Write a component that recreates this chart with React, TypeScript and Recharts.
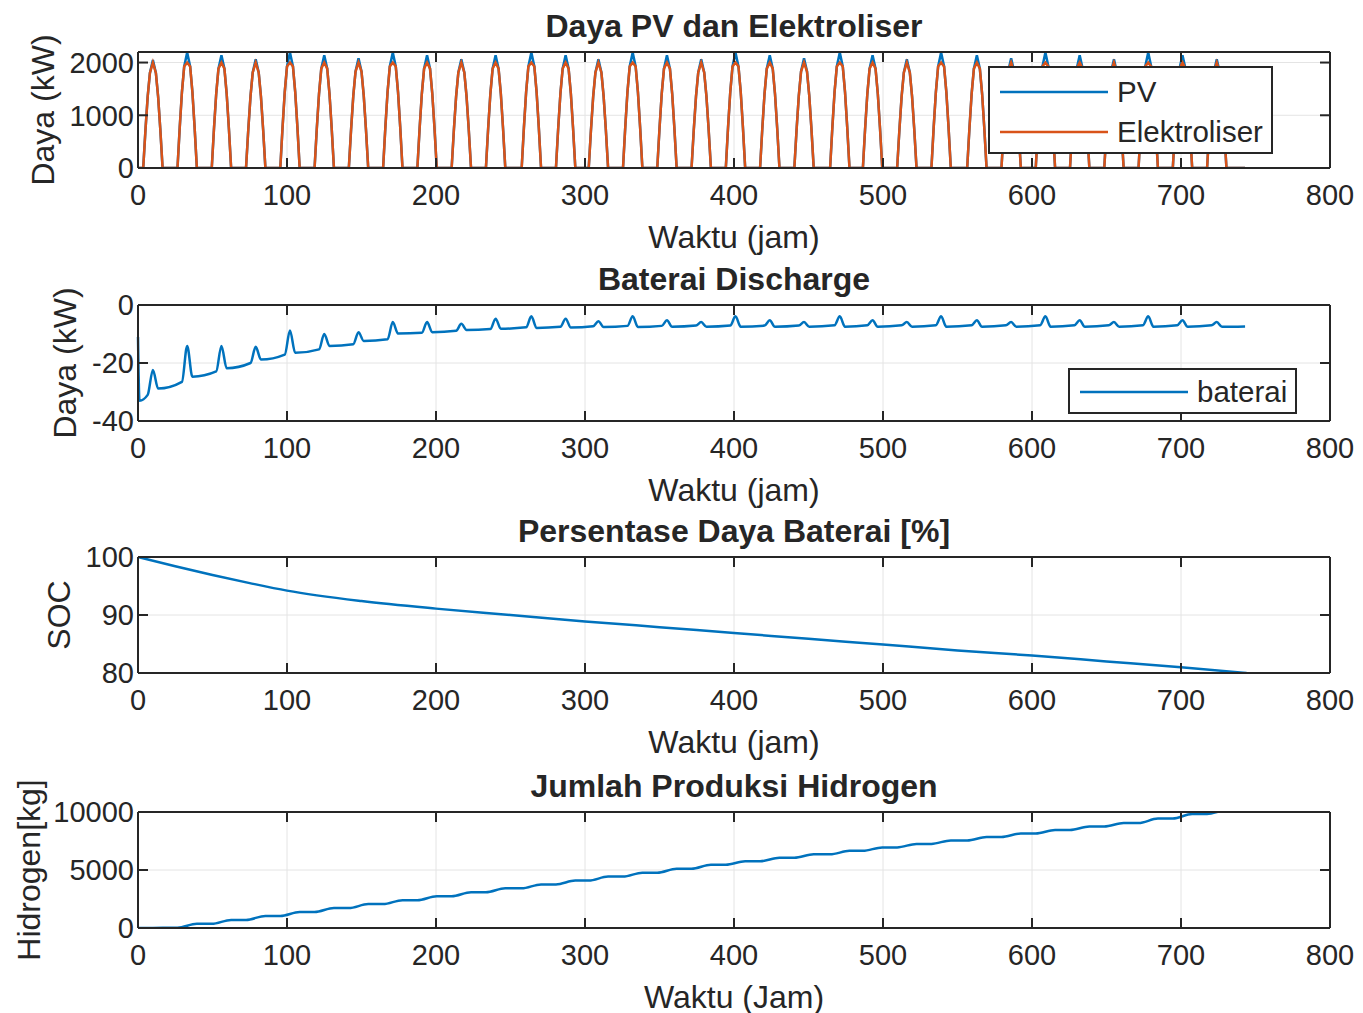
import React from 'react';
import { LineChart, Line, XAxis, YAxis, CartesianGrid, ReferenceLine } from 'recharts';

// sumbu waktu (jam)
const xTicks = [0, 100, 200, 300, 400, 500, 600, 700, 800];
const endHour = 743;

// jam puncak harian
const peakHours = [10, 33, 56, 79, 102, 125, 148, 171, 194, 217, 240, 264, 287, 309, 332, 355, 378, 401, 424, 447, 471, 493, 516, 539, 563, 586, 609, 632, 655, 678, 701, 724];

// puncak daya PV per hari (kW)
const pvPeak = [2050, 2190, 2140, 2060, 2190, 2140, 2080, 2190, 2140, 2060, 2140, 2190, 2140, 2060, 2190, 2140, 2060, 2190, 2140, 2080, 2190, 2140, 2060, 2190, 2140, 2080, 2190, 2140, 2060, 2190, 2140, 2060];
const elektroliserMax = 2000;

// bentuk kurva harian: jarak dari puncak (jam) dan fraksi puncak
const dayOffsets = [-6.5, -5, -3.5, -2, 0, 2, 3.5, 5, 6.5];
const dayFractions = [0, 0.35, 0.66, 0.88, 1, 0.88, 0.66, 0.35, 0];

// baterai discharge (kW): sebelum lonjakan, lonjakan, lembah sesudahnya
const batStart = [-11, -33];
const batPre = [-31, -26.5, -22.9, -20, -17.1, -15.3, -13.5, -11.8, -9.6, -8.9, -8.3, -7.7, -7.5, -7.3, -7.2, -7.2, -7.1, -7.1, -7.1, -7.1, -7.0, -7.0, -7.0, -7.0, -7.0, -7.0, -7.0, -7.0, -7.0, -7.0, -7.0, -7.0];
const batSpike = [-22.4, -14.1, -14.1, -14.4, -8.8, -10, -9.4, -5.9, -5.9, -6.5, -4.7, -3.9, -4.7, -5.6, -3.9, -5.3, -5.9, -3.9, -5.3, -5.9, -3.9, -5.3, -5.9, -3.9, -5.3, -5.9, -3.9, -5.3, -5.9, -3.9, -5.3, -5.9];
const batTrough = [-28.8, -24.7, -21.8, -18.8, -16.5, -14.1, -12.4, -9.8, -9.4, -8.6, -8.2, -7.9, -7.8, -7.6, -7.6, -7.5, -7.5, -7.5, -7.5, -7.5, -7.5, -7.5, -7.5, -7.5, -7.5, -7.5, -7.5, -7.5, -7.5, -7.5, -7.5, -7.5];
const batEnd = -7.4;

// SOC baterai (%)
const socHours = [0, 25, 50, 75, 100, 150, 200, 250, 300, 350, 400, 450, 500, 550, 600, 650, 700, 744];
const socValues = [100, 98.4, 96.9, 95.5, 94.2, 92.4, 91.1, 90, 88.9, 87.9, 86.9, 85.9, 84.9, 83.9, 83, 82, 81, 80];

// produksi hidrogen kumulatif di akhir tiap hari (kg)
const h2DayEnd = [20, 360, 700, 1040, 1380, 1720, 2060, 2400, 2740, 3080, 3420, 3760, 4090, 4430, 4770, 5110, 5450, 5750, 6050, 6350, 6650, 6950, 7250, 7550, 7850, 8150, 8450, 8750, 9050, 9430, 9830, 10150];

const powerData: { t: number; pv: number; elek: number }[] = [{ t: 0, pv: 0, elek: 0 }];
peakHours.forEach((p, k) => {
  dayOffsets.forEach((off, j) => {
    const v = pvPeak[k] * dayFractions[j];
    powerData.push({ t: p + off, pv: v, elek: Math.min(v, elektroliserMax) });
  });
});
powerData.push({ t: endHour, pv: 0, elek: 0 });

const batData: { t: number; bat: number }[] = [
  { t: 0, bat: batStart[0] },
  { t: 1, bat: batStart[1] },
];
peakHours.forEach((p, k) => {
  batData.push({ t: p - 3.5, bat: batPre[k] });
  batData.push({ t: p, bat: batSpike[k] });
  batData.push({ t: p + 3.5, bat: batTrough[k] });
});
batData.push({ t: endHour, bat: batEnd });

const socData = socHours.map((t, i) => ({ t, soc: socValues[i] }));

const h2Data: { t: number; h2: number }[] = [{ t: 0, h2: 0 }];
let prevH2 = 0;
peakHours.forEach((p, k) => {
  h2Data.push({ t: p - 6.5, h2: prevH2 });
  h2Data.push({ t: p + 6.5, h2: h2DayEnd[k] });
  prevH2 = h2DayEnd[k];
});
h2Data.push({ t: endHour, h2: prevH2 });

const FONT = '"Liberation Sans", Arial, sans-serif';
const INK = '#262626';
const BLUE = '#0072BD';
const ORANGE = '#D95319';
const W = 1363;
const TOP_PAD = 40;
const PLOT_H = 116;
const X_AXIS_H = 94;
const LINE_W = 2.5;
const tickStyle = { fontSize: 29, fill: INK, fontFamily: FONT };
const noLabel = () => <g />;

const xLabel = (text: string, dy: number) => ({ viewBox }: any) => (
  <text
    x={viewBox.x + viewBox.width / 2}
    y={viewBox.y + dy}
    textAnchor="middle"
    dominantBaseline="central"
    style={{ fontSize: 32, fill: INK, fontFamily: FONT }}
  >
    {text}
  </text>
);

const yLabel = (text: string, cx: number) => ({ viewBox }: any) => {
  const cy = viewBox.y + viewBox.height / 2;
  return (
    <text
      x={cx}
      y={cy}
      transform={`rotate(-90 ${cx} ${cy})`}
      textAnchor="middle"
      dominantBaseline="central"
      style={{ fontSize: 32, fill: INK, fontFamily: FONT }}
    >
      {text}
    </text>
  );
};

type PanelProps = {
  top: number;
  title: string;
  data: any[];
  yDomain: [number, number];
  yTicks: number[];
  yName: string;
  yLabelX: number;
  xName: string;
  mirrorKey: string;
  children: React.ReactNode;
};

function Panel({ top, title, data, yDomain, yTicks, yName, yLabelX, xName, mirrorKey, children }: PanelProps) {
  return (
    <div style={{ position: 'absolute', left: 0, top: top - TOP_PAD, width: W }}>
      <div
        style={{
          position: 'absolute',
          left: 138,
          width: 1192,
          top: TOP_PAD - 46,
          textAlign: 'center',
          fontFamily: FONT,
          fontWeight: 'bold',
          fontSize: 32,
          color: INK,
          lineHeight: '40px',
        }}
      >
        {title}
      </div>
      <LineChart
        width={W}
        height={TOP_PAD + PLOT_H + X_AXIS_H}
        data={data}
        margin={{ top: TOP_PAD - 1, right: 32, left: 0, bottom: 0 }}
      >
        <CartesianGrid stroke="#e4e4e4" strokeWidth={1} />
        <XAxis
          dataKey="t"
          type="number"
          domain={[0, 800]}
          ticks={xTicks}
          height={X_AXIS_H}
          tickSize={-10}
          tickMargin={26}
          tick={tickStyle}
          stroke={INK}
          strokeWidth={2}
          label={xLabel(xName, 69)}
        />
        <XAxis
          xAxisId="top"
          orientation="top"
          dataKey="t"
          type="number"
          domain={[0, 800]}
          ticks={xTicks}
          height={1}
          tickSize={-10}
          tick={noLabel}
          tickLine={{ stroke: INK, strokeWidth: 2 }}
          stroke={INK}
          strokeWidth={2}
        />
        <YAxis
          type="number"
          domain={yDomain}
          ticks={yTicks}
          width={138}
          tickSize={-10}
          tickMargin={14}
          tick={tickStyle}
          stroke={INK}
          strokeWidth={2}
          allowDataOverflow
          label={yLabel(yName, yLabelX)}
        />
        <YAxis
          yAxisId="right"
          orientation="right"
          type="number"
          domain={yDomain}
          ticks={yTicks}
          width={1}
          tickSize={-10}
          tick={noLabel}
          tickLine={{ stroke: INK, strokeWidth: 2 }}
          stroke={INK}
          strokeWidth={2}
          allowDataOverflow
        />
        {children}
        {/* garis bayangan untuk sumbu cermin (atas & kanan) */}
        <Line
          xAxisId="top"
          yAxisId="right"
          dataKey={mirrorKey}
          stroke="none"
          dot={false}
          activeDot={false}
          legendType="none"
          isAnimationActive={false}
        />
        <ReferenceLine y={yDomain[1]} stroke={INK} strokeWidth={2} ifOverflow="visible" />
        <ReferenceLine x={800} stroke={INK} strokeWidth={2} ifOverflow="visible" />
      </LineChart>
    </div>
  );
}

function LegendBox({ left, top, width, height, items }: { left: number; top: number; width: number; height: number; items: { name: string; color: string; y: number }[] }) {
  return (
    <div
      style={{
        position: 'absolute',
        left,
        top,
        width,
        height,
        boxSizing: 'border-box',
        border: `2px solid ${INK}`,
        background: '#fff',
      }}
    >
      {items.map((it) => (
        <div key={it.name} style={{ position: 'absolute', left: 0, top: it.y - 18, height: 36, width: '100%' }}>
          <svg width={120} height={36} style={{ position: 'absolute', left: 10, top: 0 }}>
            <line x1={0} x2={108} y1={18} y2={18} stroke={it.color} strokeWidth={LINE_W} />
          </svg>
          <span
            style={{
              position: 'absolute',
              left: 127,
              top: 0,
              lineHeight: '36px',
              fontFamily: FONT,
              fontSize: 29.5,
              color: INK,
              whiteSpace: 'nowrap',
            }}
          >
            {it.name}
          </span>
        </div>
      ))}
    </div>
  );
}

export default function App() {
  return (
    <div style={{ position: 'absolute', left: 0, top: 0, width: W, height: 1013, background: '#fff' }}>
      <Panel
        top={52}
        title="Daya PV dan Elektroliser"
        data={powerData}
        yDomain={[0, 2200]}
        yTicks={[0, 1000, 2000]}
        yName="Daya (kW)"
        yLabelX={43}
        xName="Waktu (jam)"
        mirrorKey="pv"
      >
        <Line dataKey="pv" name="PV" stroke={BLUE} strokeWidth={LINE_W} dot={false} isAnimationActive={false} />
        <Line dataKey="elek" name="Elektroliser" stroke={ORANGE} strokeWidth={LINE_W} dot={false} isAnimationActive={false} />
      </Panel>
      <Panel
        top={305}
        title="Baterai Discharge"
        data={batData}
        yDomain={[-40, 0]}
        yTicks={[-40, -20, 0]}
        yName="Daya (kW)"
        yLabelX={65}
        xName="Waktu (jam)"
        mirrorKey="bat"
      >
        <Line type="monotone" dataKey="bat" name="baterai" stroke={BLUE} strokeWidth={LINE_W} dot={false} isAnimationActive={false} />
      </Panel>
      <Panel
        top={557}
        title="Persentase Daya Baterai [%]"
        data={socData}
        yDomain={[80, 100]}
        yTicks={[80, 90, 100]}
        yName="SOC"
        yLabelX={59}
        xName="Waktu (jam)"
        mirrorKey="soc"
      >
        <Line type="monotone" dataKey="soc" name="SOC" stroke={BLUE} strokeWidth={LINE_W} dot={false} isAnimationActive={false} />
      </Panel>
      <Panel
        top={812}
        title="Jumlah Produksi Hidrogen"
        data={h2Data}
        yDomain={[0, 10000]}
        yTicks={[0, 5000, 10000]}
        yName="Hidrogen[kg]"
        yLabelX={29}
        xName="Waktu (Jam)"
        mirrorKey="h2"
      >
        <Line type="monotone" dataKey="h2" name="Hidrogen" stroke={BLUE} strokeWidth={LINE_W} dot={false} isAnimationActive={false} />
      </Panel>
      <LegendBox
        left={988}
        top={66}
        width={285}
        height={88}
        items={[
          { name: 'PV', color: BLUE, y: 24 },
          { name: 'Elektroliser', color: ORANGE, y: 64 },
        ]}
      />
      <LegendBox
        left={1068}
        top={368}
        width={229}
        height={46}
        items={[{ name: 'baterai', color: BLUE, y: 22 }]}
      />
    </div>
  );
}
